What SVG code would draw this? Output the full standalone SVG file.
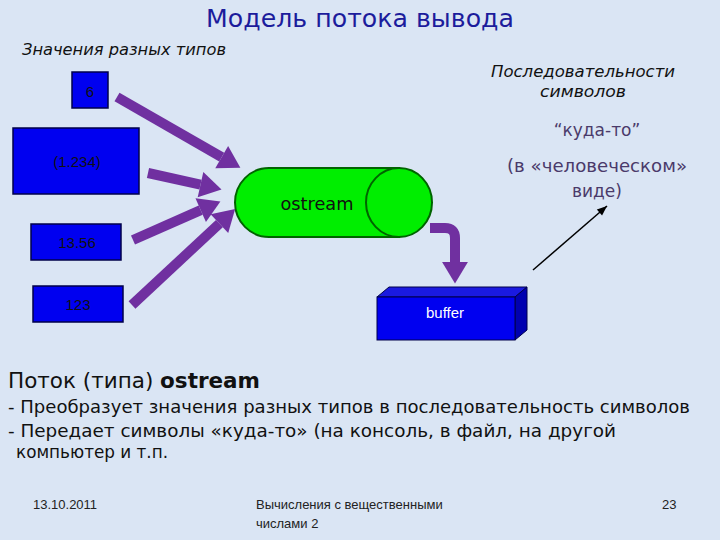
<svg xmlns="http://www.w3.org/2000/svg" width="720" height="540" viewBox="0 0 720 540">
<defs>
<style>
.hand{font-family:"DejaVu Sans","Liberation Sans",sans-serif;}
.it{font-family:"DejaVu Sans","Liberation Sans",sans-serif;font-style:italic;fill:#111;}
.val{font-family:"Liberation Sans",Arial,sans-serif;font-size:15px;fill:#111;text-anchor:middle;}
.box{fill:#0000f0;stroke:#00004a;stroke-width:1.5;}
.fat{stroke:#7030a0;stroke-width:10;fill:none;}
.foot{font-family:"Liberation Sans",Arial,sans-serif;font-size:13px;fill:#222;}
.rt{font-family:"DejaVu Sans","Liberation Sans",sans-serif;fill:#4a3a6a;text-anchor:middle;font-size:17px;}
</style>
<marker id="fh" markerUnits="userSpaceOnUse" markerWidth="24" markerHeight="28" viewBox="0 -13 21 26" refX="0" refY="0" orient="auto">
<path d="M0,-12 L20,0 L0,12 z" fill="#7030a0"/>
</marker>
<marker id="th" markerUnits="userSpaceOnUse" markerWidth="12" markerHeight="10" viewBox="0 -5 11 10" refX="10" refY="0" orient="auto">
<path d="M0,-4 L10,0 L0,4 z" fill="#000"/>
</marker>
</defs>
<rect width="720" height="540" fill="#dae5f4"/>

<text x="360" y="27" class="hand" font-size="25" fill="#1c1c9c" text-anchor="middle" textLength="308" lengthAdjust="spacingAndGlyphs">Модель потока вывода</text>
<text x="22" y="55" class="it" font-size="16" textLength="204" lengthAdjust="spacingAndGlyphs">Значения разных типов</text>
<text x="583" y="77" class="it" font-size="16" text-anchor="middle" textLength="184" lengthAdjust="spacingAndGlyphs">Последовательности</text>
<text x="583" y="97" class="it" font-size="16" text-anchor="middle" textLength="86" lengthAdjust="spacingAndGlyphs">символов</text>

<g id="val-6"><rect class="box" x="72" y="72" width="36" height="36"/><text class="val" x="90" y="97">6</text></g>
<g id="val-1234"><rect class="box" x="13" y="128" width="126" height="66"/><text class="val" x="77" y="167">(1.234)</text></g>
<g id="val-1356"><rect class="box" x="31" y="224" width="90" height="36"/><text class="val" x="77" y="248">13.56</text></g>
<g id="val-123"><rect class="box" x="33" y="286" width="90" height="36"/><text class="val" x="78" y="310">123</text></g>

<g id="ostream">
<path d="M269,168 H399 V237 H269 A34,34.5 0 0 1 269,168 z" fill="#00ee00" stroke="#006400" stroke-width="2"/>
<ellipse cx="399" cy="202.5" rx="33" ry="34.5" fill="#00ee00" stroke="#006400" stroke-width="2"/>
<text x="317" y="210" class="hand" font-size="17" fill="#111" text-anchor="middle" textLength="73" lengthAdjust="spacingAndGlyphs">ostream</text>
</g>

<g id="buffer">
<polygon points="377,297 389,287 527,287 515,297" fill="#1a1ae0" stroke="#00004a" stroke-width="1"/>
<polygon points="515,297 527,287 527,330 515,340" fill="#0000b0" stroke="#00004a" stroke-width="1"/>
<rect x="377" y="297" width="138" height="43" fill="#0000f0" stroke="#00004a" stroke-width="1"/>
<text x="445" y="318" font-family="Liberation Sans,Arial,sans-serif" font-size="15" fill="#fff" text-anchor="middle">buffer</text>
</g>

<g id="connectors">
<line class="fat" x1="117" y1="97" x2="221.7" y2="157.1" marker-end="url(#fh)"/>
<line class="fat" x1="148" y1="173" x2="200.5" y2="184.7" marker-end="url(#fh)"/>
<line class="fat" x1="133" y1="240" x2="200.7" y2="210.1" marker-end="url(#fh)"/>
<line class="fat" x1="132" y1="305" x2="219.4" y2="223.6" marker-end="url(#fh)"/>
<path class="fat" d="M430,228 H445 Q455,228 455,238 V262" marker-end="url(#fh)"/>
<line x1="533" y1="270" x2="607" y2="206" stroke="#000" stroke-width="1.5" marker-end="url(#th)"/>
</g>

<text class="rt" x="597" y="136">“куда-то”</text>
<text class="rt" x="597" y="172" textLength="180" lengthAdjust="spacingAndGlyphs">(в «человеческом»</text>
<text class="rt" x="597" y="197">виде)</text>

<text x="8" y="388" class="hand" font-size="22" fill="#111" textLength="252" lengthAdjust="spacingAndGlyphs">Поток (типа) <tspan font-weight="bold">ostream</tspan></text>
<text x="8" y="413" class="hand" font-size="18" fill="#111" textLength="682" lengthAdjust="spacingAndGlyphs">- Преобразует значения разных типов в последовательность символов</text>
<text x="8" y="437" class="hand" font-size="18" fill="#111" textLength="608" lengthAdjust="spacingAndGlyphs">- Передает символы «куда-то» (на консоль, в файл, на другой</text>
<text x="16" y="458" class="hand" font-size="18" fill="#111" textLength="152" lengthAdjust="spacingAndGlyphs">компьютер и т.п.</text>

<text x="33" y="509" class="foot">13.10.2011</text>
<text x="256" y="509" class="foot">Вычисления с вещественными</text>
<text x="256" y="528" class="foot">числами 2</text>
<text x="662" y="509" class="foot">23</text>
</svg>
